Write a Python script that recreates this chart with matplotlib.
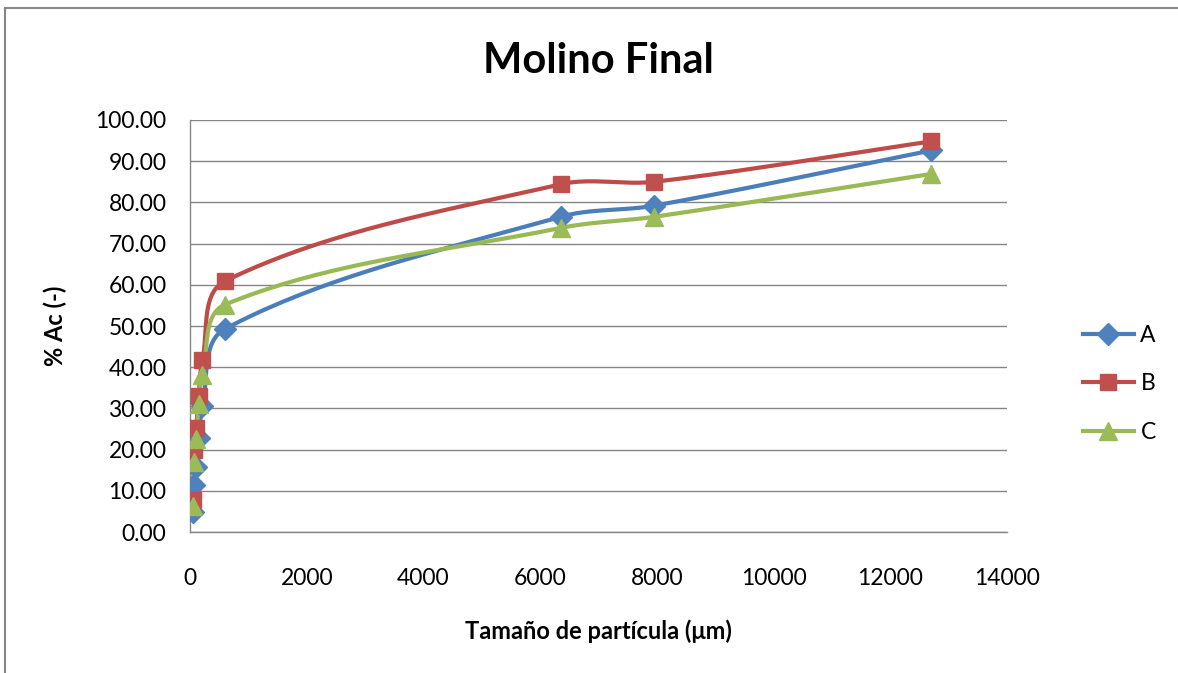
import numpy as np
import matplotlib.pyplot as plt
from matplotlib.lines import Line2D

# sieve sizes (um) and cumulative percent passing for each sample
size = [45, 75, 106, 150, 212, 600, 6350, 7950, 12700]
ac_a = [4.9, 11.3, 15.8, 22.8, 30.5, 49.3, 76.5, 79.2, 92.6]
ac_b = [7.8, 19.8, 25.3, 33.0, 41.8, 60.9, 84.4, 85.0, 94.8]
ac_c = [6.2, 16.9, 22.6, 31.0, 38.1, 55.2, 73.8, 76.5, 86.9]
labels = ["A", "B", "C"]

plt.rcParams['font.family'] = ['Lato', 'DejaVu Sans']

fig = plt.figure(figsize=(11.78, 6.73), dpi=100)
ax = fig.add_axes([0.1613, 0.2095, 0.8548 - 0.1613, 0.8217 - 0.2095])
ax.set_xlim(0, 14000)
ax.set_ylim(0, 100)


def smooth(x, y, n=40):
    # bezier smoothing in screen space, tangent length tied to each segment
    pts = ax.transData.transform(np.column_stack([x, y]))
    out = [pts[0]]
    m = len(pts)
    for i in range(m - 1):
        p0 = pts[max(i - 1, 0)]
        p1 = pts[i]
        p2 = pts[i + 1]
        p3 = pts[min(i + 2, m - 1)]
        seg = np.hypot(*(p2 - p1))
        d1 = p2 - p0
        d1 = d1 / np.hypot(*d1)
        d2 = p3 - p1
        d2 = d2 / np.hypot(*d2)
        c1 = p1 + d1 * seg / 3.0
        c2 = p2 - d2 * seg / 3.0
        t = np.linspace(0, 1, n)[1:, None]
        b = ((1 - t) ** 3) * p1 + 3 * ((1 - t) ** 2) * t * c1 \
            + 3 * (1 - t) * t ** 2 * c2 + t ** 3 * p2
        out.extend(b)
    out = np.array(out)
    return ax.transData.inverted().transform(out)


styles = [
    ("#4A7EBB", "#4F81BD", "D", 11),
    ("#BE4B48", "#C0504D", "s", 12),
    ("#98B954", "#9BBB59", "^", 13),
]

for vals, (lc, mc, mk, ms) in zip([ac_a, ac_b, ac_c], styles):
    curve = smooth(size, vals)
    ax.plot(curve[:, 0], curve[:, 1], color=lc, lw=3.0, zorder=3,
            solid_capstyle='round')
    ax.plot(size, vals, ls='none', marker=mk, ms=ms, color=mc,
            mec=mc, zorder=4)

ax.set_yticks(np.arange(0, 101, 10))
ax.set_yticklabels([f"{v:.2f}" for v in np.arange(0, 101, 10)])
ax.set_xticks(np.arange(0, 14001, 2000))
ax.grid(axis='y', color='#868686', lw=1.0)
ax.set_axisbelow(True)
for s in ['top', 'right']:
    ax.spines[s].set_visible(False)
for s in ['left', 'bottom']:
    ax.spines[s].set_color('#868686')
    ax.spines[s].set_linewidth(1.0)
ax.tick_params(length=0, labelsize=16.5, pad=17)
ax.tick_params(axis='x', pad=26)

ax.set_title("Molino Final", fontsize=30, fontweight='bold', pad=34)
ax.set_xlabel("Tamaño de partícula (μm)", fontsize=17, fontweight='bold',
              labelpad=22)
ax.set_ylabel("% Ac (-)", fontsize=17, fontweight='bold', labelpad=20)

handles = [Line2D([], [], color=lc, lw=3.0, marker=mk, ms=ms, mfc=mc, mec=mc)
           for (lc, mc, mk, ms) in styles]
ax.legend(handles, labels, loc='center left', bbox_to_anchor=(1.068, 0.36),
          frameon=False, fontsize=16.5, handlelength=2.2, labelspacing=1.2,
          handletextpad=0.3)

# outer chart border
fig.add_artist(Line2D([5 / 1178, 5 / 1178], [0, 1 - 8 / 673],
                      transform=fig.transFigure, color='#868686', lw=1.5))
fig.add_artist(Line2D([5 / 1178, 1], [1 - 8 / 673, 1 - 8 / 673],
                      transform=fig.transFigure, color='#868686', lw=1.5))

fig.savefig("out.png", dpi=100)
